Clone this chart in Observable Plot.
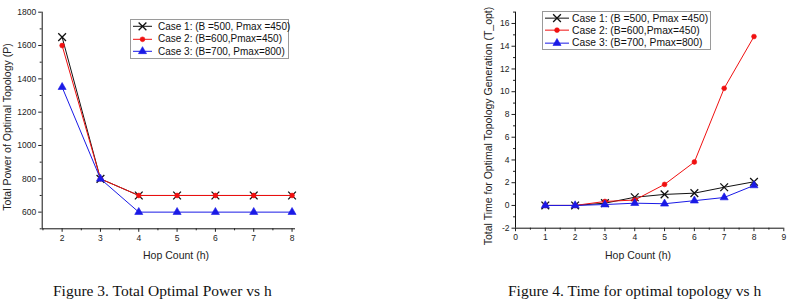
<!DOCTYPE html>
<html>
<head>
<meta charset="utf-8">
<script src="https://cdn.jsdelivr.net/npm/d3@7"></script>
<script src="https://cdn.jsdelivr.net/npm/@observablehq/plot@0.6"></script>
<style>
  body { margin: 0; background: #fff; width: 805px; height: 302px; position: relative; overflow: hidden;
         font-family: "Liberation Sans", Arial, sans-serif; }
  .panel { position: absolute; top: 0; }
  .legend { position: absolute; border: 1px solid #9a9a9a; background: #fff; color: #111; box-sizing: border-box; }
  .legend .row { display: flex; align-items: center; white-space: nowrap; }
  .legend svg { display: block; flex: none; }
  .xtitle { position: absolute; font-size: 10.5px; color: #222; transform: translateX(-50%); white-space: nowrap; }
  .ytitle { position: absolute; font-size: 10.5px; color: #222; transform: translate(-50%, -50%) rotate(-90deg); white-space: nowrap; }
  .caption { position: absolute; font-family: "Liberation Serif", "Times New Roman", serif; font-size: 15.5px; color: #111; white-space: nowrap; }
</style>
</head>
<body>
<div id="fig3" class="panel" style="left:0px"></div>
<div id="fig4" class="panel" style="left:400px"></div>

<div class="ytitle" style="left:7px; top:127px">Total Power of Optimal Topology (P)</div>
<div class="xtitle" style="left:176px; top:249px">Hop Count (h)</div>
<div class="ytitle" style="left:488px; top:126px">Total Time for Optimal Topology Generation (T_opt)</div>
<div class="xtitle" style="left:638px; top:249px">Hop Count (h)</div>

<div class="caption" style="left:53px; top:282px">Figure 3. Total Optimal Power vs h</div>
<div class="caption" style="left:508px; top:282px">Figure 4. Time for optimal topology vs h</div>

<script>
// Series names shared by both figures
const caseLabels = [
  "Case 1: (B =500, Pmax =450)",
  "Case 2: (B=600,Pmax=450)",
  "Case 3: (B=700, Pmax=800)"
];

// Figure 3: total power of the optimal topology
const powerHops = [2, 3, 4, 5, 6, 7, 8];
const powerCase1 = [1650, 800, 700, 700, 700, 700, 700];
const powerCase2 = [1600, 800, 700, 700, 700, 700, 700];
const powerCase3 = [1350, 800, 600, 600, 600, 600, 600];
const powerTicks = [600, 800, 1000, 1200, 1400, 1600, 1800];
const powerMinorTicks = [500, 700, 900, 1100, 1300, 1500, 1700];
const powerHopTicks = [2, 3, 4, 5, 6, 7, 8];
const powerHopMinorTicks = [1.5, 2.5, 3.5, 4.5, 5.5, 6.5, 7.5];

// Figure 4: time needed to generate the optimal topology
const timeHops = [1, 2, 3, 4, 5, 6, 7, 8];
const timeCase1 = [0, 0, 0.2, 0.72, 0.97, 1.08, 1.6, 2.08];
const timeCase2 = [0, 0, 0.35, 0.48, 1.85, 3.82, 10.3, 14.85];
const timeCase3 = [0, 0, 0.08, 0.2, 0.15, 0.42, 0.7, 1.76];
const timeTicks = [-2, 0, 2, 4, 6, 8, 10, 12, 14, 16];
const timeMinorTicks = [-1, 1, 3, 5, 7, 9, 11, 13, 15, 17];
const timeHopTicks = [0, 1, 2, 3, 4, 5, 6, 7, 8, 9];
const timeHopMinorTicks = [0.5, 1.5, 2.5, 3.5, 4.5, 5.5, 6.5, 7.5, 8.5];

// Drawing style per case: colour, marker, marker radius, filled or not
const caseStyles = [
  { color: "#111111", symbol: "times", r: 3.6, filled: false },
  { color: "#f01010", symbol: "circle", r: 2.4, filled: true },
  { color: "#1a1ae6", symbol: "triangle", r: 3.0, filled: true }
];

const tickFont = 8.5;
const plainNumber = d => String(d);

function lineChart(cfg) {
  const marks = [
    // axis lines along the left and bottom edges
    Plot.ruleX([cfg.xDomain[0]], { stroke: "#111", strokeWidth: 1 }),
    Plot.ruleY([cfg.yDomain[0]], { stroke: "#111", strokeWidth: 1 }),
    Plot.axisX(cfg.xTicks, { tickSize: 3.5, tickPadding: 2.5, fontSize: tickFont, color: "#222", label: null, tickFormat: plainNumber }),
    Plot.axisX(cfg.xMinor, { tickSize: 2, tickFormat: () => "", color: "#222", label: null }),
    Plot.axisY(cfg.yTicks, { tickSize: 3.5, tickPadding: 2.5, fontSize: tickFont, color: "#222", label: null, tickFormat: plainNumber }),
    Plot.axisY(cfg.yMinor, { tickSize: 2, tickFormat: () => "", color: "#222", label: null })
  ];
  cfg.series.forEach((values, i) => {
    const st = caseStyles[i];
    const rows = cfg.hops.map((h, j) => ({ h, v: values[j] }));
    marks.push(Plot.line(rows, { x: "h", y: "v", stroke: st.color, strokeWidth: 1 }));
    marks.push(Plot.dot(rows, {
      x: "h", y: "v", symbol: st.symbol, r: st.r,
      stroke: st.color, strokeWidth: st.filled ? 0.6 : 1.3,
      fill: st.filled ? st.color : "none"
    }));
  });
  return Plot.plot({
    width: cfg.width,
    height: cfg.height,
    marginLeft: cfg.margin[3],
    marginRight: cfg.margin[1],
    marginTop: cfg.margin[0],
    marginBottom: cfg.margin[2],
    x: { domain: cfg.xDomain },
    y: { domain: cfg.yDomain },
    style: { fontFamily: "'Liberation Sans', Arial, sans-serif", background: "transparent", overflow: "visible" },
    marks
  });
}

function legendBox(box) {
  const el = document.createElement("div");
  el.className = "legend";
  Object.assign(el.style, {
    left: box.left + "px", top: box.top + "px", width: box.width + "px",
    paddingLeft: box.padLeft + "px", fontSize: box.fontSize + "px"
  });
  caseLabels.forEach((label, i) => {
    const st = caseStyles[i];
    const row = document.createElement("div");
    row.className = "row";
    row.style.height = box.rowHeight + "px";
    const w = box.lineWidth, h = box.rowHeight, cy = h / 2, cx = w / 2;
    const sym = { times: d3.symbolTimes, circle: d3.symbolCircle, triangle: d3.symbolTriangle }[st.symbol];
    const path = d3.symbol(sym, Math.PI * st.r * st.r)();
    const svg = d3.create("svg").attr("width", w).attr("height", h);
    svg.append("line").attr("x1", 0).attr("x2", w).attr("y1", cy).attr("y2", cy)
      .attr("stroke", st.color).attr("stroke-width", 1);
    svg.append("path").attr("d", path).attr("transform", `translate(${cx},${cy})`)
      .attr("fill", st.filled ? st.color : "none").attr("stroke", st.color)
      .attr("stroke-width", st.filled ? 0.6 : 1.3);
    row.appendChild(svg.node());
    const text = document.createElement("span");
    text.textContent = label;
    text.style.marginLeft = box.gap + "px";
    row.appendChild(text);
    el.appendChild(row);
  });
  document.body.appendChild(el);
}

document.getElementById("fig3").appendChild(lineChart({
  width: 400, height: 262, margin: [11.7, 105, 33.7, 41.7],
  hops: powerHops, series: [powerCase1, powerCase2, powerCase3],
  xDomain: [1.48, 8.09], yDomain: [500, 1800],
  xTicks: powerHopTicks, xMinor: powerHopMinorTicks,
  yTicks: powerTicks, yMinor: powerMinorTicks
}));

document.getElementById("fig4").appendChild(lineChart({
  width: 405, height: 262, margin: [11.6, 21.7, 34.3, 115],
  hops: timeHops, series: [timeCase1, timeCase2, timeCase3],
  xDomain: [0, 9], yDomain: [-2, 17],
  xTicks: timeHopTicks, xMinor: timeHopMinorTicks,
  yTicks: timeTicks, yMinor: timeMinorTicks
}));

legendBox({ left: 130, top: 19, width: 159, rowHeight: 12.6, padLeft: 2, lineWidth: 19, gap: 6, fontSize: 10 });
legendBox({ left: 542, top: 11, width: 169, rowHeight: 12.3, padLeft: 2, lineWidth: 24, gap: 3, fontSize: 10.3 });
</script>
</body>
</html>
